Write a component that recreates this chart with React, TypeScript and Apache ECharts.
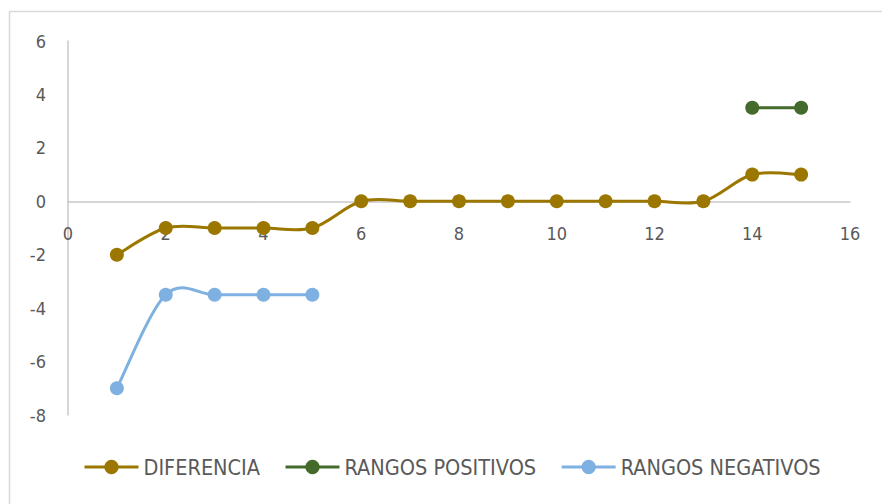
import React, { useEffect, useRef } from "react";
import * as echarts from "echarts";

const xDif = [1, 2, 3, 4, 5, 6, 7, 8, 9, 10, 11, 12, 13, 14, 15];
const yDif = [-2, -1, -1, -1, -1, 0, 0, 0, 0, 0, 0, 0, 0, 1, 1];
const xPos = [14, 15];
const yPos = [3.5, 3.5];
const xNeg = [1, 2, 3, 4, 5];
const yNeg = [-7, -3.5, -3.5, -3.5, -3.5];

const FONT = "'Liberation Sans Narrow', 'DejaVu Sans Condensed', 'Liberation Sans', sans-serif";

const pair = (xs: number[], ys: number[]) => xs.map((x, i) => [x, ys[i]]);

export default function App() {
  const ref = useRef<HTMLDivElement>(null);
  useEffect(() => {
    if (!ref.current) return;
    const chart = echarts.init(ref.current, undefined, { renderer: "svg" });

    const marks = (name: string, data: number[][], color: string) => ({
      name,
      type: "line",
      data,
      symbol: "circle",
      symbolSize: 14,
      itemStyle: { color },
      lineStyle: { color, width: 3, opacity: 0 },
      z: 3,
    });

    const curve = (xs: number[], ys: number[], color: string) => ({
      type: "custom",
      data: pair(xs, ys),
      z: 2,
      silent: true,
      renderItem: (params: any, api: any) => {
        const i = params.dataIndex;
        const n = xs.length;
        if (i >= n - 1) return null;
        const P = (k: number) => {
          const kk = Math.max(0, Math.min(n - 1, k));
          return api.coord([xs[kk], ys[kk]]);
        };
        const p0 = P(i - 1);
        const p1 = P(i);
        const p2 = P(i + 1);
        const p3 = P(i + 2);
        const t = 1 / 6;
        return {
          type: "bezierCurve",
          shape: {
            x1: p1[0],
            y1: p1[1],
            x2: p2[0],
            y2: p2[1],
            cpx1: p1[0] + (p2[0] - p0[0]) * t,
            cpy1: p1[1] + (p2[1] - p0[1]) * t,
            cpx2: p2[0] - (p3[0] - p1[0]) * t,
            cpy2: p2[1] - (p3[1] - p1[1]) * t,
          },
          style: { stroke: color, lineWidth: 3, fill: "none", lineCap: "round" },
        };
      },
    });

    const legendItem = (name: string, color: string) => ({
      name,
      lineStyle: { color, width: 3, opacity: 1 },
      itemStyle: { color },
    });

    chart.setOption({
      animation: false,
      backgroundColor: "#ffffff",
      graphic: [
        {
          type: "rect",
          shape: { x: 9.5, y: 11.5, width: 900, height: 600 },
          style: { fill: "none", stroke: "#D9D9D9", lineWidth: 1.5 },
          silent: true,
        },
      ],
      grid: { left: 68, right: 32, top: 41, bottom: 89, containLabel: false },
      legend: {
        left: 78,
        top: 451,
        itemWidth: 54,
        itemHeight: 18,
        itemGap: 24,
        textStyle: { fontFamily: FONT, fontSize: 21.5, color: "#595959" },
        data: [
          legendItem("DIFERENCIA", "#9C7700"),
          legendItem("RANGOS POSITIVOS", "#446A2C"),
          legendItem("RANGOS NEGATIVOS", "#7EB1E1"),
        ],
      },
      xAxis: {
        type: "value",
        min: 0,
        max: 16,
        interval: 2,
        axisLine: { show: true, onZero: true, lineStyle: { color: "#C8C8C8", width: 1.5 } },
        axisTick: { show: false },
        splitLine: { show: false },
        axisLabel: { margin: -191, fontFamily: FONT, fontSize: 18, color: "#595959" },
      },
      yAxis: {
        type: "value",
        min: -8,
        max: 6,
        interval: 2,
        axisLine: { show: true, lineStyle: { color: "#C8C8C8", width: 1.5 } },
        axisTick: { show: false },
        splitLine: { show: false },
        axisLabel: { margin: 22, fontFamily: FONT, fontSize: 18, color: "#595959" },
      },
      series: [
        marks("DIFERENCIA", pair(xDif, yDif), "#9C7700"),
        marks("RANGOS POSITIVOS", pair(xPos, yPos), "#446A2C"),
        marks("RANGOS NEGATIVOS", pair(xNeg, yNeg), "#7EB1E1"),
        curve(xDif, yDif, "#9C7700"),
        curve(xPos, yPos, "#446A2C"),
        curve(xNeg, yNeg, "#7EB1E1"),
      ],
    });
    return () => chart.dispose();
  }, []);
  return (
    <div
      ref={ref}
      style={{ position: "fixed", left: 0, top: 0, width: 882, height: 504 }}
    />
  );
}
